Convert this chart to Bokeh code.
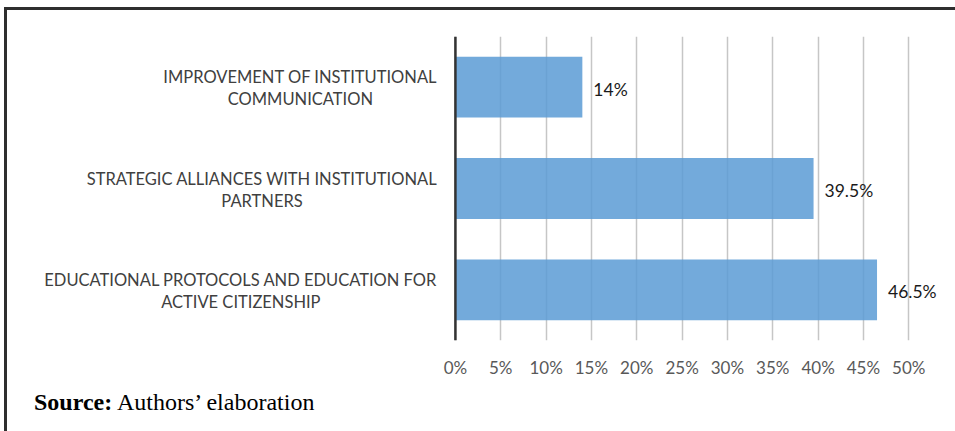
from bokeh.plotting import figure
from bokeh.models import FactorRange, FixedTicker, PrintfTickFormatter, Span, ColumnDataSource, Div
from bokeh.layouts import column
from bokeh.core.properties import value
from bokeh.embed import file_html
from bokeh.resources import INLINE

categories = [
    "IMPROVEMENT OF INSTITUTIONAL\nCOMMUNICATION",
    "STRATEGIC ALLIANCES WITH INSTITUTIONAL\nPARTNERS",
    "EDUCATIONAL PROTOCOLS AND EDUCATION FOR\nACTIVE CITIZENSHIP",
]
values = [14, 39.5, 46.5]
value_labels = ["14%", "39.5%", "46.5%"]
x_ticks = [0, 5, 10, 15, 20, 25, 30, 35, 40, 45, 50]
source_bold = "Source:"
source_text = "Authors’ elaboration"

src = ColumnDataSource(dict(cat=categories, val=values, lab=value_labels,
                            zero=[0] * len(values)))

p = figure(
    width=948, height=370,
    y_range=FactorRange(factors=list(reversed(categories)), range_padding=0),
    x_range=(-49.4, 53.5),
    output_backend="svg", toolbar_location=None,
    min_border_left=0, min_border_right=15, min_border_top=26, min_border_bottom=39,
)
p.outline_line_color = None
p.background_fill_color = "white"
p.border_fill_color = "white"

p.hbar(y="cat", right="val", left=0, height=0.6, source=src,
       fill_color="#5b9bd5", fill_alpha=0.85, line_color=None)

# value labels
p.text(x="val", y="cat", text="lab", source=src, x_offset=11, y_offset=2,
       text_baseline="middle", text_align="left", text_font=value("Lato"),
       text_font_size="17.5px", text_color="#1a1a1a")

# category labels (lines centred, block right-aligned against the axis)
p.text(x="zero", y="cat", text="cat", source=src, x_offset=-18, y_offset=1,
       text_align="center", anchor="center_right", text_baseline="middle",
       text_font=value("Lato"), text_font_size="16.5px", text_line_height=1.1,
       text_color="#404040")

p.add_layout(Span(location=0, dimension="height", line_color="#333333", line_width=2.5))

p.xgrid.ticker = FixedTicker(ticks=x_ticks)
p.xgrid.grid_line_color = "#c6c6c6"
p.xgrid.grid_line_width = 1.5
p.ygrid.grid_line_color = None
p.yaxis.visible = False

xa = p.xaxis[0]
xa.ticker = FixedTicker(ticks=x_ticks)
xa.formatter = PrintfTickFormatter(format="%d%%")
xa.axis_line_color = None
xa.major_tick_line_color = None
xa.minor_tick_line_color = None
xa.major_tick_out = 0
xa.major_label_standoff = 16
xa.major_label_text_font = "Lato"
xa.major_label_text_font_size = "17px"
xa.major_label_text_color = "#595959"

div = Div(
    text=f"<b>{source_bold}</b> {source_text}",
    width=948, height=51,
    styles={
        "font-family": "'Liberation Serif', 'Times New Roman', serif",
        "font-size": "24px",
        "color": "#000000",
        "padding-left": "22px",
        "background-color": "white",
    },
)

root = column(p, div, spacing=0)
root.styles = {
    "border-top": "3px solid #2e2e2e",
    "border-left": "3px solid #2e2e2e",
    "margin-left": "4px",
    "margin-top": "7px",
}

open("out.html", "w").write(file_html(root, INLINE))
